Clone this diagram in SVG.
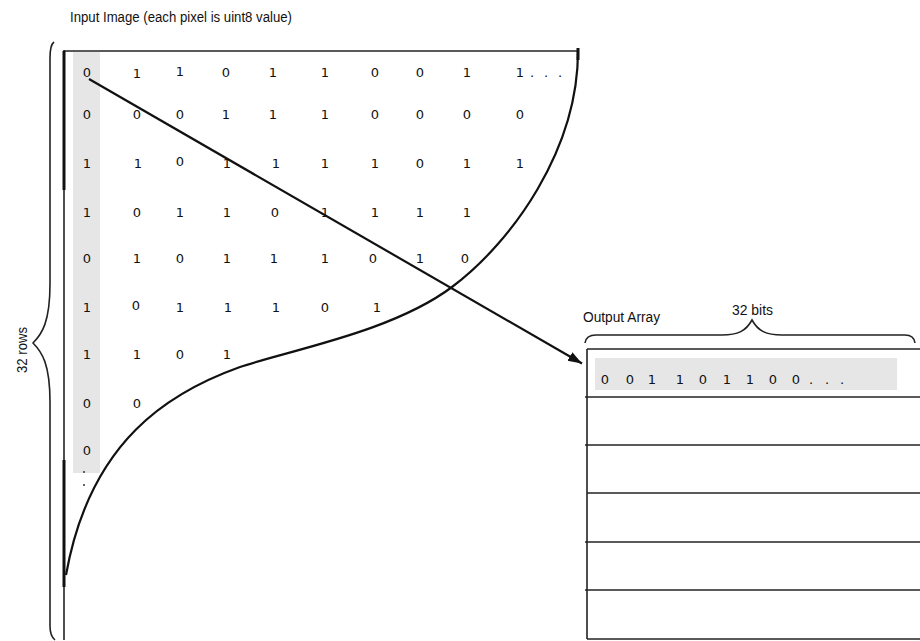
<svg xmlns="http://www.w3.org/2000/svg" width="920" height="641" viewBox="0 0 920 641">
<style>
.lbl{font-family:"Liberation Sans",Arial,sans-serif;font-size:14px;fill:#111}
.d{font-family:"DejaVu Sans","Liberation Sans",sans-serif;font-size:13px;fill:#111;text-anchor:middle}
.ln{stroke:#222;stroke-width:1.6;fill:none}
.thk{stroke:#111;stroke-width:2.2;fill:none}
</style>
<defs>
<marker id="ah" markerUnits="userSpaceOnUse" markerWidth="16" markerHeight="12" refX="14" refY="5" orient="auto">
<path d="M0,0 L14,5 L0,10 z" fill="#111"/>
</marker>
</defs>
<rect width="920" height="641" fill="#fff"/>

<text class="lbl" x="70" y="22" textLength="222" lengthAdjust="spacingAndGlyphs">Input Image (each pixel is uint8 value)</text>

<g id="rows-brace">
<path class="ln" d="M54,42 Q50,45 50,58 L50,284 C50,322 42,334 33,343 C42,352 50,364 50,402 L50,626 Q50,636 55,640"/>
<text class="lbl" transform="translate(27,350) rotate(-90)" text-anchor="middle" textLength="46" lengthAdjust="spacingAndGlyphs">32 rows</text>
</g>

<g id="input-image">
<rect x="73" y="52" width="27" height="421" fill="#e6e6e6"/>
<line class="ln" x1="64" y1="51" x2="578" y2="51"/>
<line class="ln" x1="64" y1="50" x2="64" y2="640"/>
<line x1="64" y1="51" x2="64" y2="190" stroke="#111" stroke-width="3"/>
<line x1="64" y1="460" x2="64" y2="587" stroke="#111" stroke-width="3"/>
<line x1="578" y1="48" x2="578" y2="60" stroke="#111" stroke-width="3"/>
<path class="thk" d="M578,51 C578,150 512,242 452,287 C392,332 290,350 240,367 C170,392 90,440 66,575"/>
<g>
<text class="d" y="77"><tspan x="87">0</tspan><tspan x="137" dy="1">1</tspan><tspan x="180" dy="-2">1</tspan><tspan x="226" dy="1">0</tspan><tspan x="273">1</tspan><tspan x="325">1</tspan><tspan x="375">0</tspan><tspan x="420">0</tspan><tspan x="467">1</tspan><tspan x="520">1</tspan></text>
<text class="d" x="532" y="77">.</text><text class="d" x="546" y="77">.</text><text class="d" x="560" y="77">.</text>
<text class="d" y="119"><tspan x="87">0</tspan><tspan x="137">0</tspan><tspan x="180">0</tspan><tspan x="226">1</tspan><tspan x="273">1</tspan><tspan x="325">1</tspan><tspan x="375">0</tspan><tspan x="420">0</tspan><tspan x="467">0</tspan><tspan x="520">0</tspan></text>
<text class="d" y="168"><tspan x="87">1</tspan><tspan x="138">1</tspan><tspan x="180" dy="-2">0</tspan><tspan x="227" dy="2">1</tspan><tspan x="276">1</tspan><tspan x="325">1</tspan><tspan x="375">1</tspan><tspan x="420">0</tspan><tspan x="467">1</tspan><tspan x="520">1</tspan></text>
<text class="d" y="217"><tspan x="87">1</tspan><tspan x="137">0</tspan><tspan x="180">1</tspan><tspan x="227">1</tspan><tspan x="275">0</tspan><tspan x="325">1</tspan><tspan x="375">1</tspan><tspan x="420">1</tspan><tspan x="467">1</tspan></text>
<text class="d" y="263"><tspan x="87">0</tspan><tspan x="137">1</tspan><tspan x="180">0</tspan><tspan x="227">1</tspan><tspan x="274">1</tspan><tspan x="325">1</tspan><tspan x="373">0</tspan><tspan x="420">1</tspan><tspan x="465">0</tspan></text>
<text class="d" y="312"><tspan x="87">1</tspan><tspan x="136" dy="-2">0</tspan><tspan x="180" dy="2">1</tspan><tspan x="228">1</tspan><tspan x="276">1</tspan><tspan x="325">0</tspan><tspan x="377">1</tspan></text>
<text class="d" y="359"><tspan x="87">1</tspan><tspan x="137">1</tspan><tspan x="180">0</tspan><tspan x="227">1</tspan></text>
<text class="d" y="408"><tspan x="87">0</tspan><tspan x="137">0</tspan></text>
<text class="d" y="455"><tspan x="87">0</tspan></text>
<circle cx="84" cy="472" r="1" fill="#333"/>
<circle cx="84" cy="485" r="1" fill="#333"/>
</g>
</g>

<g id="output-array">
<text class="lbl" x="583" y="322" textLength="77" lengthAdjust="spacingAndGlyphs">Output Array</text>
<text class="lbl" x="732" y="315" textLength="41" lengthAdjust="spacingAndGlyphs">32 bits</text>
<path class="ln" d="M585,343 Q586,335 596,335 L722,335 C738,335 746,331 752,320 C758,331 766,335 782,335 L905,335 Q914,335 915,343"/>
<rect x="595" y="358" width="302" height="32" fill="#e6e6e6"/>
<line class="ln" x1="587" y1="349" x2="920" y2="349"/>
<line class="ln" x1="587" y1="349" x2="587" y2="639"/>
<line class="ln" x1="585" y1="397" x2="920" y2="397"/>
<line class="ln" x1="585" y1="445" x2="920" y2="445"/>
<line class="ln" x1="587" y1="493" x2="920" y2="493"/>
<line class="ln" x1="585" y1="542" x2="920" y2="542"/>
<line class="ln" x1="585" y1="590" x2="920" y2="590"/>
<line class="ln" x1="587" y1="639" x2="920" y2="639"/>
<text class="d" y="384"><tspan x="605">0</tspan><tspan x="630">0</tspan><tspan x="652">1</tspan><tspan x="680">1</tspan><tspan x="703">0</tspan><tspan x="727">1</tspan><tspan x="750">1</tspan><tspan x="773">0</tspan><tspan x="796">0</tspan><tspan x="811">.</tspan><tspan x="827">.</tspan><tspan x="842">.</tspan></text>
</g>

<g id="connectors">
<line x1="89" y1="79" x2="582" y2="363.5" stroke="#111" stroke-width="2.2" marker-end="url(#ah)"/>
</g>
</svg>
